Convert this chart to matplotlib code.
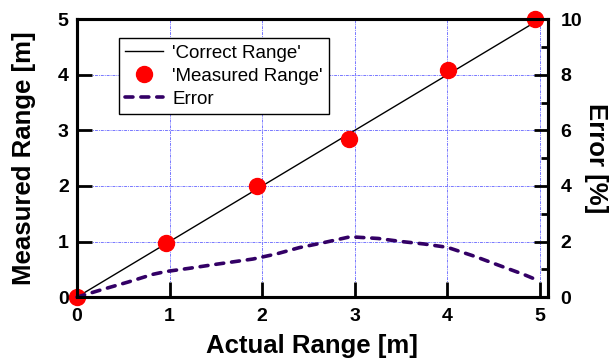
import numpy as np
import matplotlib
matplotlib.use("Agg")
import matplotlib.pyplot as plt
from matplotlib.ticker import MultipleLocator

plt.rcParams['font.family'] = ['Liberation Sans', 'DejaVu Sans']

# data
actual_line = [0, 5]
correct_line = [0, 5]

actual_pts = [0.0, 0.96, 1.94, 2.935, 4.01, 4.95]
measured_pts = [0.0, 0.975, 1.99, 2.85, 4.08, 5.0]

err_x = [0.0, 0.28, 0.55, 0.82, 0.96, 1.2, 1.5, 1.9, 2.15, 2.4, 2.65,
         2.95, 3.25, 3.5, 3.75, 4.0, 4.3, 4.55, 4.82, 4.95]
err_y = [0.0, 0.28, 0.54, 0.82, 0.92, 1.03, 1.18, 1.37, 1.55, 1.78, 1.95,
         2.17, 2.11, 2.0, 1.91, 1.79, 1.46, 1.15, 0.82, 0.64]

fig = plt.figure(figsize=(6.14, 3.61), dpi=100)
ax = fig.add_axes([0.1254, 0.177, 0.767, 0.770])
ax2 = ax.twinx()

grid_kw = dict(color='#7878ff', linestyle=(0, (3, 1, 1, 1)), linewidth=0.7)
ax.set_axisbelow(True)
ax.grid(True, **grid_kw)

l1, = ax.plot(actual_line, correct_line, color='black', linewidth=1.0,
              label="'Correct Range'")
l2, = ax.plot(actual_pts, measured_pts, 'o', color='red', markersize=11.5,
              clip_on=False, zorder=5, label="'Measured Range'")
l3, = ax2.plot(err_x, err_y, color='#330066', linewidth=2.6,
               linestyle=(0, (2.2, 2.2)), dash_capstyle='round',
               clip_on=False, label='Error')

ax.set_xlim(0, 5.085)
ax.set_ylim(0, 5)
ax2.set_ylim(0, 10)
ax.xaxis.set_major_locator(MultipleLocator(1))
ax.yaxis.set_major_locator(MultipleLocator(1))
ax2.yaxis.set_major_locator(MultipleLocator(2))
ax2.yaxis.set_minor_locator(MultipleLocator(1))

for a in (ax, ax2):
    for s in a.spines.values():
        s.set_linewidth(2.2)
ax.tick_params(axis='both', which='major', direction='in', length=11,
               width=2, labelsize=14)
ax.tick_params(axis='x', pad=8)
ax.tick_params(axis='y', pad=6)
ax2.tick_params(axis='y', which='major', direction='in', length=10,
                width=2, labelsize=14, pad=9)
ax2.tick_params(axis='y', which='minor', direction='in', length=5, width=2)
for lab in ax.get_xticklabels() + ax.get_yticklabels() + ax2.get_yticklabels():
    lab.set_fontweight('bold')

ax.set_xlabel('Actual Range [m]', fontsize=18.5, fontweight='bold', labelpad=6)
ax.set_ylabel('Measured Range [m]', fontsize=18.5, fontweight='bold', labelpad=16)
ax2.set_ylabel('Error [%]', fontsize=18.5, fontweight='bold', rotation=-90,
               ha='center', va='center', rotation_mode='anchor')
ax2.yaxis.set_label_coords(1.102, 0.5)

leg = ax2.legend(handles=[l1, l2, l3], loc='upper left',
                 bbox_to_anchor=(0.089, 0.932), borderaxespad=0,
                 fontsize=13.5, fancybox=False, framealpha=1,
                 edgecolor='black', handlelength=2.0, handletextpad=0.5,
                 labelspacing=0.31, borderpad=0.35, numpoints=1)
leg.get_frame().set_linewidth(1.0)

fig.savefig('out.png', dpi=100)
